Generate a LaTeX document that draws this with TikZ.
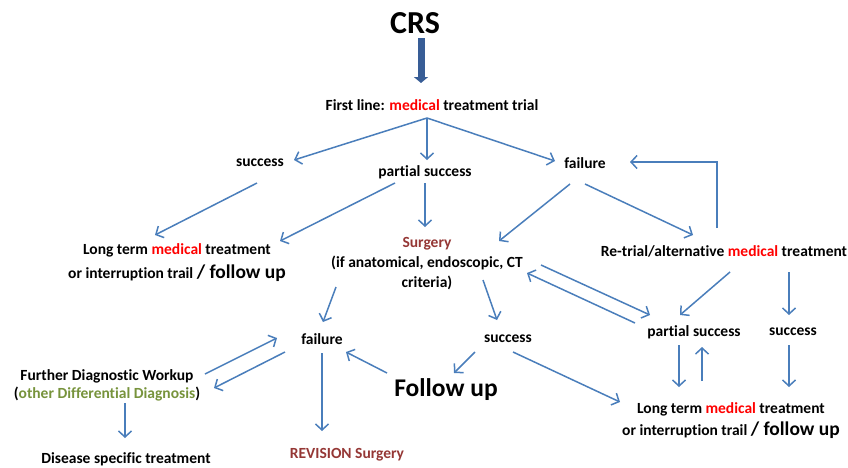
\documentclass[tikz,border=0pt]{standalone}
\usepackage{fontspec}
\setmainfont[Ligatures={NoCommon,NoContextual}]{Carlito}
\usetikzlibrary{arrows.meta}
\definecolor{arrblue}{RGB}{74,126,187}
\definecolor{thickblue}{RGB}{56,93,150}
\definecolor{medred}{RGB}{255,0,0}
\definecolor{surgred}{RGB}{149,55,53}
\definecolor{diffgreen}{RGB}{119,147,60}
\tikzset{
  txt/.style={font=\fontsize{15.5}{20}\selectfont\bfseries, inner sep=0pt, align=center},
  arr/.style={draw=arrblue, line width=1.5pt, -{Straight Barb[length=6pt,width=13pt,line width=1.5pt]}},
}
\newcommand{\med}{\textcolor{medred}{medical}}
\newcommand{\bigfu}{{\fontsize{19.5}{24}\selectfont / follow up}}
\begin{document}
\begin{tikzpicture}[x=1pt,y=-1pt]
\useasboundingbox (0,0) rectangle (848,467);
% nodes
\node[txt, font=\fontsize{32}{36}\selectfont\bfseries] (crs) at (415,23) {CRS};
\node[txt] (fl) at (432,105) {First line: \med{} treatment trial};
\node[txt] (s1) at (260,163) {success};
\node[txt] (ps1) at (425,172) {partial success};
\node[txt] (f1) at (585,163) {failure};
\node[txt, font=\fontsize{15.5}{24}\selectfont\bfseries] (lt1) at (177,263) {Long term \med{} treatment\\ or interruption trail \bigfu};
\node[txt] (surg) at (427,264) {\textcolor{surgred}{Surgery}\\(if anatomical, endoscopic, CT\\criteria)};
\node[txt] (rt) at (724,251) {Re-trial/alternative \med{} treatment};
\node[txt] (f2) at (322,339) {failure};
\node[txt] (s2) at (508,339) {success};
\node[txt] (ps2) at (694,332) {partial success};
\node[txt] (s3) at (793,332) {success};
\node[txt, font=\fontsize{15.5}{18}\selectfont\bfseries] (fdw) at (107,385) {Further Diagnostic Workup\\(\textcolor{diffgreen}{other Differential Diagnosis})};
\node[txt, font=\fontsize{25.5}{30}\selectfont\bfseries] (fu) at (446,390) {Follow up};
\node[txt, font=\fontsize{15.5}{22}\selectfont\bfseries] (lt2) at (731,421) {Long term \med{} treatment\\ or interruption trail \bigfu};
\node[txt] (dst) at (126,459) {Disease specific treatment};
\node[txt, text=surgred] (rev) at (347,455) {REVISION Surgery};
% thick arrow
\draw[thickblue, line width=7pt, -{Triangle[length=6pt,width=14pt]}] ([shift={(6,15)}]crs.center) -- ([shift={(-11,-22)}]fl.center);
% connectors
\draw[arr] ([shift={(-5,13)}]fl.center) -- ([shift={(34,-3)}]s1.center);
\draw[arr] ([shift={(-5,13)}]fl.center) -- ([shift={(2,-12)}]ps1.center);
\draw[arr] ([shift={(-5,13)}]fl.center) -- ([shift={(-30,-2)}]f1.center);
\draw[arr] ([shift={(-3,20)}]s1.center) -- ([shift={(-22,-28)}]lt1.center);
\draw[arr] ([shift={(-30,11)}]ps1.center) -- ([shift={(103,-22)}]lt1.center);
\draw[arr] ([shift={(0,11)}]ps1.center) -- ([shift={(-2,-37)}]surg.center);
\draw[arr] ([shift={(-15,21)}]f1.center) -- ([shift={(72,-23)}]surg.center);
\draw[arr] ([shift={(0,21)}]f1.center) -- ([shift={(-31,-16)}]rt.center);
\draw[arr] ([shift={(-7,-23)}]rt.center) |- ([shift={(45,-1)}]f1.center);
\draw[arr] ([shift={(6,21)}]rt.center) -- ([shift={(-14,-17)}]ps2.center);
\draw[arr] ([shift={(65,21)}]rt.center) -- ([shift={(-4,-17)}]s3.center);
\draw[arr] ([shift={(114,1)}]surg.center) -- ([shift={(-44,-17)}]ps2.center);
\draw[arr] ([shift={(-59,-9)}]ps2.center) -- ([shift={(100,9)}]surg.center);
\draw[arr] ([shift={(-91,23)}]surg.center) -- ([shift={(1,-17)}]f2.center);
\draw[arr] ([shift={(56,16)}]surg.center) -- ([shift={(-11,-19)}]s2.center);
\draw[arr] ([shift={(0,14)}]f2.center) -- ([shift={(-25,-24)}]rev.center);
\draw[arr] ([shift={(98,-11)}]fdw.center) -- ([shift={(-45,-1)}]f2.center);
\draw[arr] ([shift={(-37,13)}]f2.center) -- ([shift={(107,3)}]fdw.center);
\draw[arr] ([shift={(-59,-17)}]fu.center) -- ([shift={(24,13)}]f2.center);
\draw[arr] ([shift={(-33,13)}]s2.center) -- ([shift={(8,-17)}]fu.center);
\draw[arr] ([shift={(5,13)}]s2.center) -- ([shift={(-111,-19)}]lt2.center);
\draw[arr] ([shift={(-15,13)}]ps2.center) -- ([shift={(-52,-34)}]lt2.center);
\draw[arr] ([shift={(-29,-40)}]lt2.center) -- ([shift={(8,15)}]ps2.center);
\draw[arr] ([shift={(-4,13)}]s3.center) -- ([shift={(58,-34)}]lt2.center);
\draw[arr] ([shift={(18,18)}]fdw.center) -- ([shift={(-1,-21)}]dst.center);
\end{tikzpicture}
\end{document}
